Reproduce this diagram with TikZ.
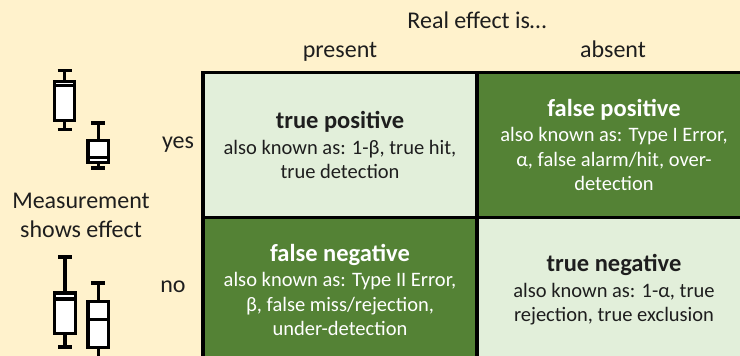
\documentclass[tikz,border=0pt]{standalone}
\usepackage{fontspec}
\setmainfont{Carlito}
\definecolor{paper}{HTML}{FFF2CC}
\definecolor{palegreen}{HTML}{E2EFDA}
\definecolor{deepgreen}{HTML}{548235}
\definecolor{ink}{HTML}{1E1E1E}
\newcommand\labelfont{\fontsize{24}{29}\selectfont}
\newcommand\bodyfont{\fontsize{20.5}{24.5}\selectfont}
\newcommand\headfont{\fontsize{24.5}{26}\selectfont\bfseries}
% box-and-whisker glyph: name, x, half width, cap top, box top, median, box bottom, cap bottom
\newcommand\whiskerbox[8]{%
  \coordinate (#1) at (#2,#6);
  \draw[glyph] (#2-7,#4) -- (#2+7,#4);
  \draw[glyph] (#2,#4) -- (#2,#5);
  \draw[glyph,fill=white] (#2-#3,#5) rectangle (#2+#3,#7);
  \draw[glyph] (#2-#3,#6) -- (#2+#3,#6);
  \draw[glyph] (#2,#7) -- (#2,#8);
  \draw[glyph] (#2-7,#8) -- (#2+7,#8);
}
\begin{document}
\begin{tikzpicture}[x=1pt,y=-1pt,
  glyph/.style={line width=3.2pt,draw=black},
  cell/.style={draw=black,line width=3.5pt,minimum width=274pt,minimum height=145pt,
    align=center,inner sep=0pt,font=\bodyfont},
  lightcell/.style={cell,fill=palegreen,text=ink},
  darkcell/.style={cell,fill=deepgreen,text=white},
  caption/.style={font=\labelfont,text=ink,anchor=base,inner sep=0pt}]
\clip (0,0) rectangle (740,356);
\fill[paper] (0,0) rectangle (740,356);

% header labels
\node[caption] (real) at (477,28) {Real effect is\ldots};
\node[caption] (present) at (340,57) {present};
\node[caption] (absent) at (613,57) {absent};
\node[caption] (yes) at (178,148) {yes};
\node[caption] (no) at (173,292) {no};
\node[caption,align=center] (meas) at (81,237) {Measurement\\shows effect};

% the four outcome cells
\node[lightcell] (tp) at (340,145) {{\headfont true positive}\\[1pt]
  also known as: 1-β, true hit,\\ true detection};
\node[darkcell] (fp) at (614,145) {{\headfont false positive}\\[1pt]
  also known as: Type I Error,\\ α, false alarm/hit, over-\\ detection};
\node[lightcell] (tn) at (614,290) {{\headfont true negative}\\[1pt]
  also known as: 1-α, true\\ rejection, true exclusion};
\node[darkcell] (fn) at (340,290) {{\headfont false negative}\\[1pt]
  also known as: Type II Error,\\ β, false miss/rejection,\\ under-detection};

% box plots beside the rows
\whiskerbox{bpa}{64.7}{10}{70.5}{81.5}{85.5}{120.5}{129.5}
\whiskerbox{bpb}{98.3}{10.3}{123}{140.5}{157.5}{162.5}{168}
\whiskerbox{bpc}{65}{10.3}{257}{293}{299}{333.5}{347}
\whiskerbox{bpd}{98.3}{10.3}{283}{301.3}{319.5}{347.3}{370}
\end{tikzpicture}
\end{document}
